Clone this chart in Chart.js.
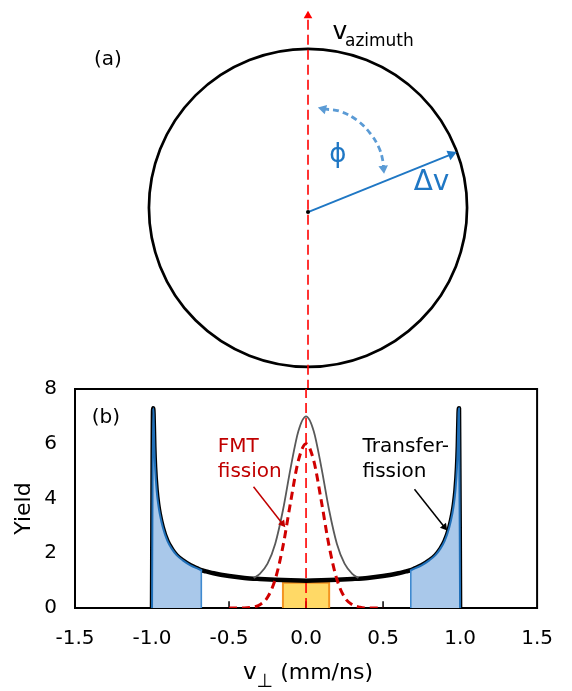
<!DOCTYPE html>
<html><head><meta charset="utf-8">
<script src="https://cdn.jsdelivr.net/npm/chart.js@4/dist/chart.umd.min.js"></script>
<style>
html,body{margin:0;padding:0;background:#fff;}
#wrap{position:relative;width:572px;height:691px;overflow:hidden;}
canvas{position:absolute;left:0;top:0;}
</style></head><body>
<div id="wrap"><canvas id="diagram" width="572" height="691"></canvas><canvas id="plot" width="572" height="691"></canvas></div>
<script>
// ---------------- data (panel b) ----------------
const xTickValues = [-1.5, -1.0, -0.5, 0.0, 0.5, 1.0, 1.5];
const yTickValues = [0, 2, 4, 6, 8];
// transfer-fission distribution (thick black)
const vPerp = [-1.0,-0.993,-0.99,-0.985,-0.98,-0.97,-0.96,-0.95,-0.93,-0.9,-0.87,-0.84,-0.8,-0.75,-0.7,-0.68,-0.65,-0.6,-0.5,-0.4,-0.3,-0.2,-0.1,0,
               0.1,0.2,0.3,0.4,0.5,0.6,0.65,0.68,0.7,0.75,0.8,0.84,0.87,0.9,0.93,0.95,0.96,0.97,0.98,0.985,0.99,0.993,1.0];
const transferYield = [0,7.3,7.1,5.9,5.15,4.3,3.8,3.45,2.95,2.45,2.15,1.93,1.74,1.56,1.43,1.38,1.34,1.27,1.17,1.1,1.06,1.03,1.01,1.0,
               1.01,1.03,1.06,1.1,1.17,1.27,1.34,1.38,1.43,1.56,1.74,1.93,2.15,2.45,2.95,3.45,3.8,4.3,5.15,5.9,7.1,7.3,0];
// shaded (blue) wings
const wingLeftX  = [-1.0,-0.993,-0.99,-0.985,-0.98,-0.97,-0.96,-0.95,-0.93,-0.9,-0.87,-0.84,-0.8,-0.75,-0.7,-0.68];
const wingLeftY  = [0,7.3,7.1,5.9,5.15,4.3,3.8,3.45,2.95,2.45,2.15,1.93,1.74,1.56,1.43,1.38];
const wingRightX = [0.68,0.7,0.75,0.8,0.84,0.87,0.9,0.93,0.95,0.96,0.97,0.98,0.985,0.99,0.993,1.0];
const wingRightY = [1.38,1.43,1.56,1.74,1.93,2.15,2.45,2.95,3.45,3.8,4.3,5.15,5.9,7.1,7.3,0];
const wingCutX = [-0.68, 0.68];
const wingCutY = [1.38, 1.38];
// sum curve (thin grey)
const sumX = [-0.34,-0.3,-0.25,-0.2,-0.15,-0.1,-0.05,0,0.05,0.1,0.15,0.2,0.25,0.3,0.34];
const sumYield = [1.1,1.25,1.62,2.35,3.57,5.12,6.46,7.0,6.46,5.12,3.57,2.35,1.62,1.25,1.1];
// FMT fission (red dashed)
const fmtX = [-0.5,-0.4,-0.35,-0.3,-0.25,-0.2,-0.15,-0.1,-0.05,0,0.05,0.1,0.15,0.2,0.25,0.3,0.35,0.4,0.5];
const fmtYield = [0,0,0.03,0.12,0.39,1.05,2.25,3.88,5.38,6.0,5.38,3.88,2.25,1.05,0.39,0.12,0.03,0,0];
// central window (orange box)
const windowX = [-0.15,-0.15,0.15,0.15];
const windowY = [0,0.92,0.92,0];
// small marks on the axis
const axisMarkX = [-0.5, 0, 0.5];
const axisMarkTop = [0.25, 0.25, 0.25];
// annotation arrows
const fmtArrowX = [-0.341,-0.153], fmtArrowY = [4.43,3.08];
const trArrowX = [0.704,0.898], trArrowY = [4.34,2.96];
const vAxisY = [0, 8];

// ---------------- data (panel a) ----------------
const circleRadius = 1.024;
const azimuthY = [-1.19, 1.2425];
const azimuthHeadY = 1.2554;
const deltaVX = [0, 0.922], deltaVY = [-0.028, 0.35];
const phiArcX = [0.097,0.206,0.315,0.399,0.457,0.483,0.486];
const phiArcY = [0.647,0.631,0.573,0.489,0.393,0.302,0.257];
const phiHeadX = [0.098, 0.486], phiHeadY = [0.647, 0.258];

const FONT = '"DejaVu Sans", Verdana, sans-serif';
Chart.defaults.font.family = FONT;
Chart.defaults.color = '#000';
const pts = (xs, ys) => xs.map((x, i) => ({x, y: ys[i]}));

const annotate = {
  id: 'annotate',
  beforeDatasetsDraw(chart, args, opts) {
    if (!opts.frame) return;
    const {ctx, chartArea: a} = chart;
    ctx.save(); ctx.strokeStyle = '#000'; ctx.lineWidth = 2;
    ctx.strokeRect(a.left, a.top, a.right - a.left, a.bottom - a.top);
    ctx.restore();
  },
  afterDraw(chart, args, opts) {
    const {ctx, scales: {x, y}, chartArea: a} = chart;
    ctx.save();
    for (const t of (opts.items || [])) {
      ctx.font = `${t.size}px ${FONT}`;
      ctx.fillStyle = t.color || '#000';
      ctx.textAlign = t.align || 'center';
      ctx.textBaseline = t.baseline || 'middle';
      ctx.fillText(t.text, x.getPixelForValue(t.x), y.getPixelForValue(t.y));
    }
    if (opts.axisTitles) {
      ctx.save();
      ctx.font = `22px ${FONT}`; ctx.fillStyle = '#000';
      ctx.textAlign = 'center'; ctx.textBaseline = 'middle';
      ctx.translate(24, (a.top + a.bottom) / 2 + 10);
      ctx.rotate(-Math.PI / 2);
      ctx.fillText('Yield', 0, 0);
      ctx.restore();
      ctx.textAlign = 'left'; ctx.textBaseline = 'alphabetic'; ctx.fillStyle = '#000';
      let px = 243; const base = a.bottom + 71;
      ctx.font = `23px ${FONT}`; ctx.fillText('v', px, base); px += ctx.measureText('v').width;
      ctx.font = `19px ${FONT}`; ctx.fillText('\u22A5', px, base + 8); px += ctx.measureText('\u22A5').width;
      ctx.font = `22px ${FONT}`; ctx.fillText(' (mm/ns)', px, base);
    }
    ctx.restore();
  }
};

// ---------------- panel (a): diagram ----------------
new Chart(document.getElementById('diagram'), {
  type: 'scatter',
  data: { datasets: [
    { data: pts([0], [azimuthHeadY]), pointStyle: 'triangle', pointRadius: 5, pointBackgroundColor: '#ff0000', pointBorderWidth: 0, order: 0 },
    { data: pts([0, 0], azimuthY), showLine: true, borderColor: '#ff0000', borderWidth: 1.6, borderDash: [10, 5], pointRadius: 0, order: 1 },
    { data: pts([deltaVX[1]], [deltaVY[1]]), pointStyle: 'triangle', pointRadius: 6, pointRotation: 67.7, pointBackgroundColor: '#1f77c4', pointBorderWidth: 0, order: 0 },
    { data: pts(deltaVX, deltaVY), showLine: true, borderColor: '#1f77c4', borderWidth: 2, pointRadius: 0, order: 2 },
    { data: pts([deltaVX[0]], [deltaVY[0]]), pointRadius: 2, pointBackgroundColor: '#000', pointBorderWidth: 0, order: 0 },
    { data: pts(phiHeadX, phiHeadY), pointStyle: 'triangle', pointRadius: 5.5, pointRotation: [-76, 174], pointBackgroundColor: '#5b9bd5', pointBorderWidth: 0, order: 0 },
    { data: pts(phiArcX, phiArcY), showLine: true, tension: 0.4, borderColor: '#5b9bd5', borderWidth: 2.8, borderDash: [6, 4], pointRadius: 0, order: 2 },
    { data: pts([0], [0]), pointStyle: 'circle', pointBackgroundColor: 'rgba(0,0,0,0)', pointBorderColor: '#000', pointBorderWidth: 2.7,
      pointRadius: (c) => { const s = c.chart.scales.x; return s.getPixelForValue(circleRadius) - s.getPixelForValue(0); }, order: 3 }
  ]},
  options: {
    responsive: false, animation: false, events: [],
    layout: { padding: { left: 75, right: 31, top: 0, bottom: 302 } },
    scales: {
      x: { type: 'linear', display: false, min: -1.5, max: 1.5 },
      y: { type: 'linear', display: false, min: -1.1846, max: 1.3198 }
    },
    plugins: {
      legend: { display: false }, tooltip: { enabled: false },
      annotate: { items: [
        { text: '(a)', x: -1.288, y: 0.966, size: 20 },
        { text: 'v', x: 0.158, y: 1.107, size: 25, align: 'left', baseline: 'alphabetic' },
        { text: 'azimuth', x: 0.238, y: 1.056, size: 17, align: 'left', baseline: 'alphabetic' },
        { text: '\u03D5', x: 0.192, y: 0.341, size: 26, color: '#1f77c4' },
        { text: '\u0394v', x: 0.795, y: 0.161, size: 28, color: '#1f77c4' }
      ]}
    }
  },
  plugins: [annotate]
});

// ---------------- panel (b): chart ----------------
const markData = axisMarkX.flatMap((x, i) => [{x, y: 0}, {x, y: axisMarkTop[i]}, {x, y: null}]);
new Chart(document.getElementById('plot'), {
  type: 'scatter',
  data: { datasets: [
    { data: pts([0, 0], vAxisY), showLine: true, borderColor: '#ff0000', borderWidth: 1.6, borderDash: [10, 5], pointRadius: 0, order: 1 },
    { data: pts(fmtX, fmtYield), showLine: true, cubicInterpolationMode: 'monotone', borderColor: '#d00000', borderWidth: 3, borderDash: [8, 5], pointRadius: 0, order: 2 },
    { data: pts([fmtArrowX[1]], [fmtArrowY[1]]), pointStyle: 'triangle', pointRadius: 4.5, pointRotation: 141.6, pointBackgroundColor: '#c00000', pointBorderWidth: 0, order: 3 },
    { data: pts(fmtArrowX, fmtArrowY), showLine: true, borderColor: '#c00000', borderWidth: 1.5, pointRadius: 0, order: 3 },
    { data: pts([trArrowX[1]], [trArrowY[1]]), pointStyle: 'triangle', pointRadius: 4.5, pointRotation: 141, pointBackgroundColor: '#000', pointBorderWidth: 0, order: 3 },
    { data: pts(trArrowX, trArrowY), showLine: true, borderColor: '#000', borderWidth: 1.5, pointRadius: 0, order: 3 },
    { data: pts(sumX, sumYield), showLine: true, cubicInterpolationMode: 'monotone', borderColor: '#595959', borderWidth: 1.8, pointRadius: 0, order: 4 },
    { data: markData, showLine: true, borderColor: '#000', borderWidth: 1.5, pointRadius: 0, spanGaps: false, order: 4 },
    { data: pts([wingCutX[0], wingCutX[0]], [0, wingCutY[0]]), showLine: true, borderColor: '#3f8ad0', borderWidth: 1.6, pointRadius: 0, order: 5 },
    { data: pts([wingCutX[1], wingCutX[1]], [0, wingCutY[1]]), showLine: true, borderColor: '#3f8ad0', borderWidth: 1.6, pointRadius: 0, order: 5 },
    { data: pts(wingLeftX, wingLeftY), showLine: true, cubicInterpolationMode: 'monotone', fill: 'origin', backgroundColor: '#a9c8ea', borderColor: '#1f6fb8', borderWidth: 2, borderCapStyle: 'round', borderJoinStyle: 'round', pointRadius: 0, order: 6 },
    { data: pts(wingRightX, wingRightY), showLine: true, cubicInterpolationMode: 'monotone', fill: 'origin', backgroundColor: '#a9c8ea', borderColor: '#1f6fb8', borderWidth: 2, borderCapStyle: 'round', borderJoinStyle: 'round', pointRadius: 0, order: 6 },
    { data: pts(vPerp, transferYield), showLine: true, cubicInterpolationMode: 'monotone', borderColor: '#000', borderWidth: 4.5, borderCapStyle: 'round', borderJoinStyle: 'round', pointRadius: 0, order: 7 },
    { data: pts(windowX, windowY), showLine: true, fill: 'origin', backgroundColor: '#ffd966', borderColor: '#f39422', borderWidth: 2, pointRadius: 0, order: 8 }
  ]},
  options: {
    responsive: false, animation: false, events: [],
    layout: { padding: { left: 0, right: 31, top: 389, bottom: 0 } },
    scales: {
      x: { type: 'linear', min: xTickValues[0], max: xTickValues[xTickValues.length - 1],
           afterBuildTicks: (s) => { s.ticks = xTickValues.map(v => ({value: v})); },
           ticks: { callback: (v) => Number(v).toFixed(1), font: { size: 20 }, color: '#000', padding: 19, maxRotation: 0 },
           grid: { display: false, drawTicks: false }, border: { display: false },
           afterFit: (s) => { s.height = 83; } },
      y: { type: 'linear', min: yTickValues[0], max: yTickValues[yTickValues.length - 1],
           afterBuildTicks: (s) => { s.ticks = yTickValues.map(v => ({value: v})); },
           ticks: { font: { size: 20 }, color: '#000', padding: 18 },
           grid: { display: false, drawTicks: false }, border: { display: false },
           afterFit: (s) => { s.width = 75; } }
    },
    plugins: {
      legend: { display: false }, tooltip: { enabled: false },
      annotate: { frame: true, axisTitles: true, items: [
        { text: '(b)', x: -1.3, y: 6.94, size: 20 },
        { text: 'FMT', x: -0.573, y: 5.88, size: 20, align: 'left', color: '#c00000' },
        { text: 'fission', x: -0.573, y: 4.97, size: 20, align: 'left', color: '#c00000' },
        { text: 'Transfer-', x: 0.367, y: 5.88, size: 20, align: 'left' },
        { text: 'fission', x: 0.367, y: 4.97, size: 20, align: 'left' }
      ]}
    }
  },
  plugins: [annotate]
});
</script>
</body></html>
